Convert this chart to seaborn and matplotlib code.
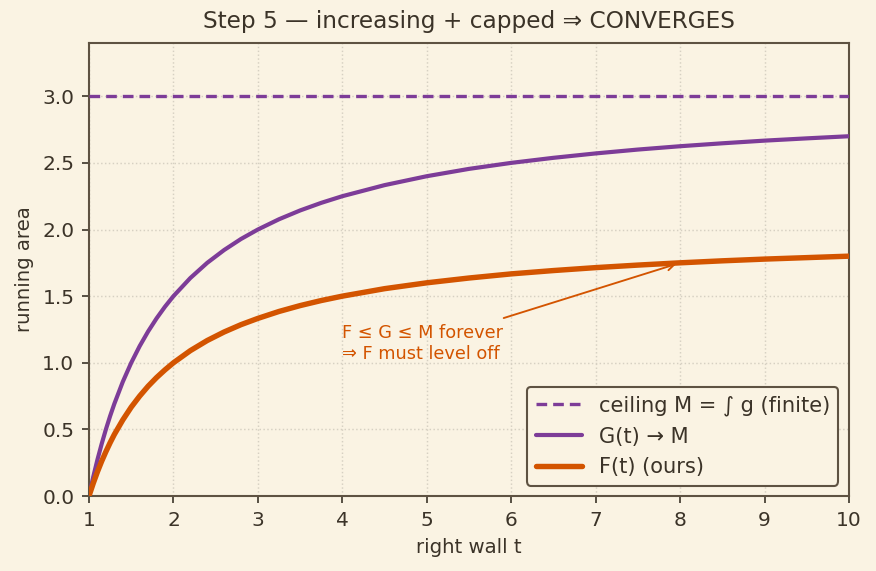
import matplotlib
matplotlib.use("Agg")
import matplotlib.pyplot as plt
import seaborn as sns
import pandas as pd

# ---- data ----
t_vals = [1.0, 1.05, 1.1, 1.15, 1.2, 1.25, 1.3, 1.4, 1.5, 1.6, 1.7, 1.8, 1.9, 2.0,
          2.2, 2.4, 2.6, 2.8, 3.0, 3.25, 3.5, 3.75, 4.0, 4.5, 5.0, 5.5, 6.0,
          6.5, 7.0, 7.5, 8.0, 8.5, 9.0, 9.5, 10.0]
G_vals = [0.0, 0.143, 0.273, 0.391, 0.500, 0.600, 0.692, 0.857, 1.000, 1.125, 1.235,
          1.333, 1.421, 1.500, 1.636, 1.750, 1.846, 1.929, 2.000, 2.077, 2.143, 2.200,
          2.250, 2.333, 2.400, 2.455, 2.500, 2.538, 2.571, 2.600, 2.625, 2.647, 2.667,
          2.684, 2.700]
F_vals = [0.0, 0.095, 0.182, 0.261, 0.333, 0.400, 0.462, 0.571, 0.667, 0.750, 0.824,
          0.889, 0.947, 1.000, 1.091, 1.167, 1.231, 1.286, 1.333, 1.385, 1.429, 1.467,
          1.500, 1.556, 1.600, 1.636, 1.667, 1.692, 1.714, 1.733, 1.750, 1.765, 1.778,
          1.789, 1.800]
M_ceiling = 3.0

labels = ["ceiling M = ∫ g (finite)", "G(t) → M", "F(t) (ours)"]
title = "Step 5 — increasing + capped ⇒ CONVERGES"
annot_text = "F ≤ G ≤ M forever\n⇒ F must level off"
annot_xy = (8, 1.75)
annot_text_xy = (4, 1.0)

# ---- style ----
BG = "#faf3e3"
INK = "#3b3328"
SPINE = "#5e5242"
PURPLE = "#7d3c98"
ORANGE = "#d35400"

sns.set_theme(style="ticks")
plt.rcParams.update({
    "font.family": ["DejaVu Sans"],
    "figure.facecolor": BG,
    "axes.facecolor": BG,
    "savefig.facecolor": BG,
    "text.color": INK,
    "axes.labelcolor": INK,
    "xtick.color": INK,
    "ytick.color": INK,
    "axes.edgecolor": SPINE,
})

fig, ax = plt.subplots(figsize=(5.84, 3.807), dpi=150)
fig.subplots_adjust(left=0.1016, right=0.9692, top=0.9247, bottom=0.1313)

df = pd.DataFrame({"t": t_vals, "G": G_vals, "F": F_vals})

ax.axhline(M_ceiling, color=PURPLE, lw=1.6, ls=(0, (3.2, 1.8)), label=labels[0], zorder=3)
sns.lineplot(data=df, x="t", y="G", ax=ax, color=PURPLE, lw=2.0, label=labels[1], zorder=4)
sns.lineplot(data=df, x="t", y="F", ax=ax, color=ORANGE, lw=2.6, label=labels[2], zorder=5)

ax.set_xlim(1, 10)
ax.set_ylim(0, 3.4)
ax.set_xticks(range(1, 11))
ax.set_yticks([0, 0.5, 1.0, 1.5, 2.0, 2.5, 3.0])
ax.set_yticklabels([f"{v:.1f}" for v in [0, 0.5, 1.0, 1.5, 2.0, 2.5, 3.0]])
ax.grid(True, ls=":", lw=0.7, color="#d6d0c2")
ax.tick_params(labelsize=9.7, length=3.5, width=0.8, colors=INK)
for s in ax.spines.values():
    s.set_color(SPINE)
    s.set_linewidth(1.0)

ax.set_xlabel("right wall t", fontsize=9.5)
ax.set_ylabel("running area", fontsize=9.5)
ax.set_title(title, fontsize=11.2, color=INK, pad=7)

ax.annotate(annot_text, xy=annot_xy, xytext=annot_text_xy, fontsize=8.5,
            color=ORANGE, ha="left", va="bottom",
            arrowprops=dict(arrowstyle="->", color=ORANGE, lw=0.9))

leg = ax.legend(loc="lower right", fontsize=10.1, frameon=True, fancybox=True,
                facecolor=BG, edgecolor=SPINE, framealpha=1.0, handlelength=2.2,
                borderaxespad=0.5)
leg.get_frame().set_linewidth(1.0)
for txt in leg.get_texts():
    txt.set_color(INK)

fig.savefig("out.png", dpi=150)
